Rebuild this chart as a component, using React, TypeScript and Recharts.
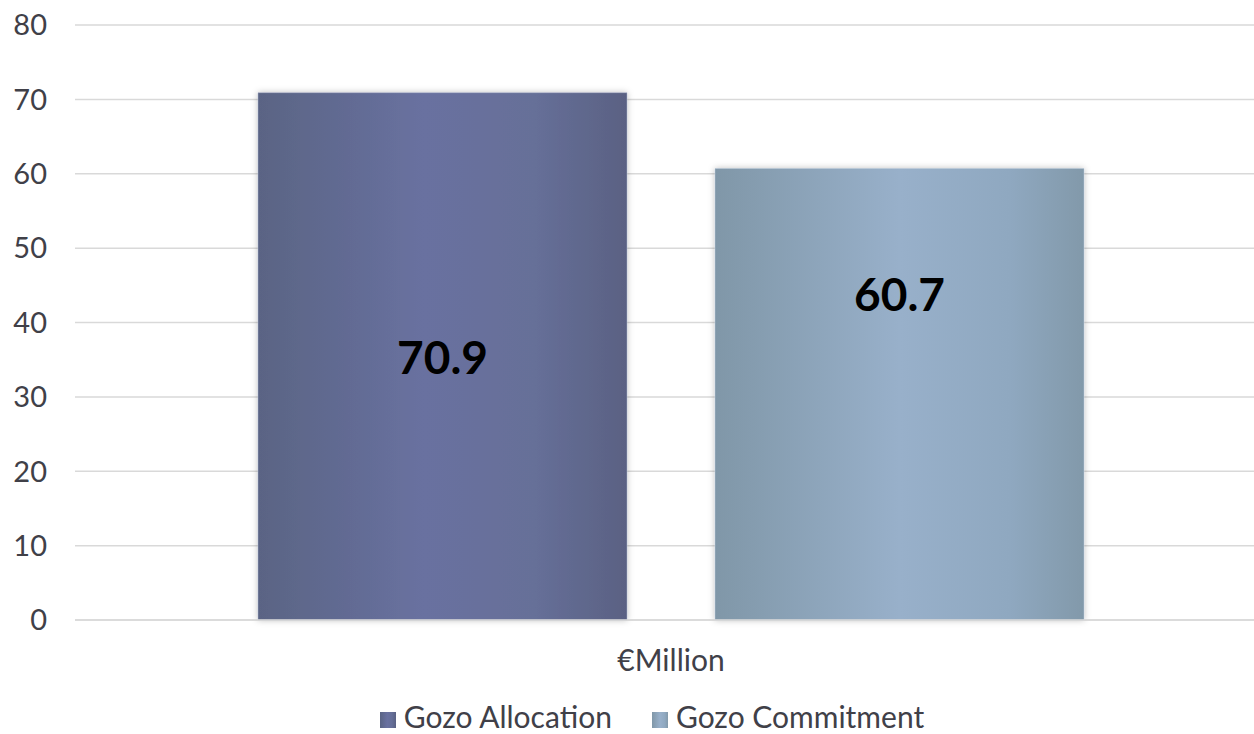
import { BarChart, Bar, XAxis, YAxis, CartesianGrid, Legend, LabelList } from "recharts";

const categories = ["€Million"];
const allocation = [70.9];
const commitment = [60.7];
const yTicks = [0, 10, 20, 30, 40, 50, 60, 70, 80];

const data = categories.map((name, i) => ({
  name,
  allocation: allocation[i],
  commitment: commitment[i],
}));

const FONT = "Lato, 'Open Sans', sans-serif";
const TEXT = "#404048";

// label sits at a fraction of the bar height from its top
function makeLabel(frac: number) {
  return (props: any) => {
    const { x, y, width, height, value } = props;
    return (
      <text
        x={x + width / 2}
        y={y + height * frac}
        textAnchor="middle"
        dominantBaseline="central"
        fontFamily={FONT}
        fontWeight={700}
        fontSize={46}
        fill="#000"
      >
        {value}
      </text>
    );
  };
}

export default function App() {
  return (
    <div style={{ position: "absolute", left: 0, top: 0, background: "#fff" }}>
      <BarChart
        width={1254}
        height={734}
        data={data}
        margin={{ top: 25, right: 0, left: 0, bottom: 0 }}
        barSize={369}
        barGap={88}
      >
        <defs>
          <linearGradient id="gAlloc" x1="0" y1="0" x2="1" y2="0">
            <stop offset="0%" stopColor="#5a6484" />
            <stop offset="45%" stopColor="#6971a0" />
            <stop offset="75%" stopColor="#666f98" />
            <stop offset="100%" stopColor="#5a6183" />
          </linearGradient>
          <linearGradient id="gCommit" x1="0" y1="0" x2="1" y2="0">
            <stop offset="0%" stopColor="#8097a8" />
            <stop offset="50%" stopColor="#98b0ca" />
            <stop offset="80%" stopColor="#8fa8c0" />
            <stop offset="100%" stopColor="#8299aa" />
          </linearGradient>
          <filter id="shadow" x="-5%" y="-5%" width="110%" height="110%">
            <feDropShadow dx="0" dy="0" stdDeviation="3" floodColor="#000" floodOpacity="0.25" />
          </filter>
        </defs>
        <CartesianGrid vertical={false} stroke="#d9d9d9" strokeWidth={1.5} />
        <XAxis
          dataKey="name"
          padding={{ left: 13, right: 0 }}
          tickLine={false}
          tickSize={0}
          tickMargin={30}
          height={72}
          axisLine={{ stroke: "#d9d9d9", strokeWidth: 1.5 }}
          tick={{ fontSize: 30, fill: TEXT, fontFamily: FONT }}
        />
        <YAxis
          domain={[0, 80]}
          ticks={yTicks}
          width={75}
          axisLine={false}
          tickLine={false}
          tickSize={0}
          tickMargin={28}
          tick={{ fontSize: 29, fill: TEXT, fontFamily: FONT }}
        />
        <Legend
          verticalAlign="bottom"
          iconType="square"
          iconSize={16}
          wrapperStyle={{
            fontFamily: FONT,
            fontSize: 30,
            color: TEXT,
            height: 42,
            bottom: -6,
            paddingLeft: 90,
            boxSizing: "border-box",
          }}
          formatter={(v: string) => (
            <span style={{ color: TEXT, marginLeft: 4, marginRight: 30 }}>{v}</span>
          )}
        />
        <Bar
          dataKey="allocation"
          name="Gozo Allocation"
          fill="url(#gAlloc)"
          stroke="#aab0c8"
          strokeWidth={0.5}
          filter="url(#shadow)"
          legendType="square"
          isAnimationActive={false}
        >
          <LabelList dataKey="allocation" content={makeLabel(0.5)} />
        </Bar>
        <Bar
          dataKey="commitment"
          name="Gozo Commitment"
          fill="url(#gCommit)"
          stroke="#b8c8d8"
          strokeWidth={0.5}
          filter="url(#shadow)"
          legendType="square"
          isAnimationActive={false}
        >
          <LabelList dataKey="commitment" content={makeLabel(0.277)} />
        </Bar>
      </BarChart>
    </div>
  );
}
